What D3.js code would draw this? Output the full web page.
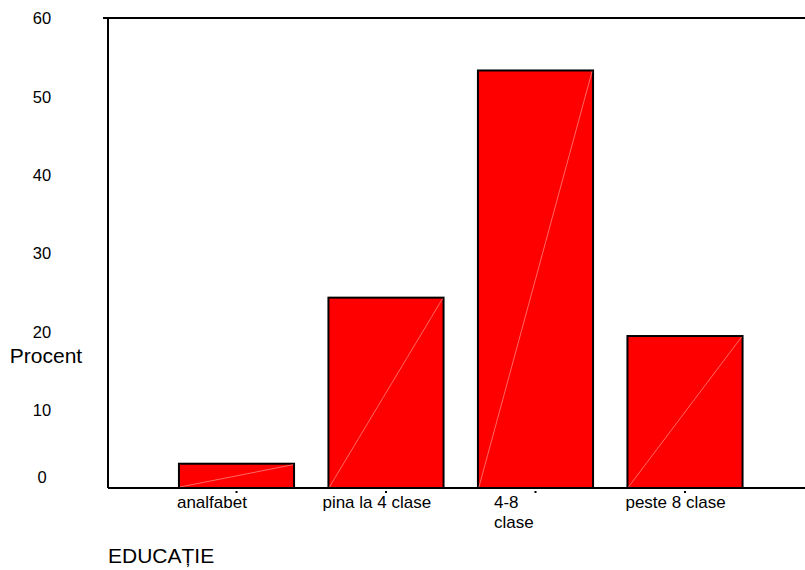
<!DOCTYPE html>
<html><head><meta charset="utf-8">
<script src="https://cdn.jsdelivr.net/npm/d3@7"></script>
<style>body{margin:0;background:#fff}svg{display:block;font-family:"Liberation Sans",Arial,sans-serif}</style>
</head><body><svg id="c" width="805" height="570"></svg>
<script>
const categories = ["analfabet", "pina la 4 clase", "4-8 clase", "peste 8 clase"];
const values = [3.1, 24.3, 53.3, 19.4];
const yTicks = [0, 10, 20, 30, 40, 50, 60];

const svg = d3.select("#c");
const y = d3.scaleLinear().domain([0, 60]).range([488, 18]);
const x = d3.scaleBand().domain(categories).range([161.75, 759.75]).paddingInner(0.23).paddingOuter(0.115);

// frame lines
svg.append("line").attr("x1",103).attr("x2",805).attr("y1",y(60)).attr("y2",y(60)).attr("stroke","#000").attr("stroke-width",2);
svg.append("line").attr("x1",108).attr("x2",108).attr("y1",y(60)).attr("y2",y(0)).attr("stroke","#000").attr("stroke-width",2);

// y tick labels
svg.append("g").selectAll("text").data(yTicks).join("text")
  .attr("x",42).attr("y",d=>d===0? y(d)-11 : y(d)+0.5)
  .attr("dy","0.35em").attr("text-anchor","middle")
  .attr("font-size",16.5).attr("fill","#000").text(d=>d);

// bars
const g = svg.append("g");
categories.forEach((c,i)=>{
  const x0 = x(c), w = x.bandwidth(), yt = y(values[i]), yb = y(0);
  g.append("rect").attr("x",x0).attr("y",yt).attr("width",w).attr("height",yb-yt)
    .attr("fill","#ff0000").attr("stroke","#000").attr("stroke-width",2);
  g.append("line").attr("x1",x0+1).attr("y1",yb-1).attr("x2",x0+w-1).attr("y2",yt+1)
    .attr("stroke","#ff8080").attr("stroke-width",0.8);
});

// baseline
svg.append("line").attr("x1",108).attr("x2",805).attr("y1",y(0)).attr("y2",y(0)).attr("stroke","#000").attr("stroke-width",2);

// x ticks (dots)
svg.append("g").selectAll("rect").data(categories).join("rect")
  .attr("x",d=>x(d)+x.bandwidth()/2-1).attr("y",y(0)+3).attr("width",2).attr("height",2).attr("fill","#000");

// x labels (left-aligned starts, relative to band start)
const labelShift = {"analfabet": -2, "pina la 4 clase": -6, "4-8 clase": 16, "peste 8 clase": -2};
const xl = svg.append("g").attr("font-size",17).attr("fill","#000");
categories.forEach((c)=>{
  const sx = x(c) + labelShift[c];
  if (c === "4-8 clase") {
    const t = xl.append("text").attr("y",508).attr("text-anchor","start");
    t.append("tspan").attr("x",sx).attr("dy",0).text("4-8");
    t.append("tspan").attr("x",sx).attr("dy",20).text("clase");
  } else {
    xl.append("text").attr("x",sx).attr("y",508).attr("text-anchor","start").text(c);
  }
});

// axis titles
svg.append("text").attr("x",46).attr("y",363).attr("text-anchor","middle").attr("font-size",21).text("Procent");
svg.append("text").attr("x",108).attr("y",563).attr("text-anchor","start").attr("font-size",21).text("EDUCAȚIE");
</script></body></html>
